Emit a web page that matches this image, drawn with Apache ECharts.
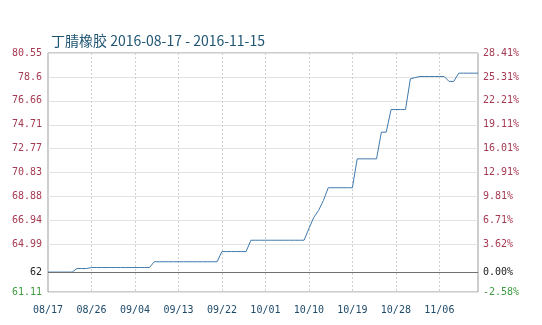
<!DOCTYPE html>
<html>
<head>
<meta charset="utf-8">
<script src="https://cdn.jsdelivr.net/npm/echarts@6/dist/echarts.min.js"></script>
<style>
html,body{margin:0;padding:0;background:#fff;}
#c{width:542px;height:325px;}
</style>
</head>
<body>
<div id="c"></div>
<script>
const titleText = '丁腈橡胶 2016-08-17 - 2016-11-15';
const dates = [
'08/17','08/18','08/19','08/20','08/21','08/22','08/23','08/24','08/25','08/26','08/27','08/28','08/29','08/30','08/31',
'09/01','09/02','09/03','09/04','09/05','09/06','09/07','09/08','09/09','09/10','09/11','09/12','09/13','09/14','09/15',
'09/16','09/17','09/18','09/19','09/20','09/21','09/22','09/23','09/24','09/25','09/26','09/27','09/28','09/29','09/30',
'10/01','10/02','10/03','10/04','10/05','10/06','10/07','10/08','10/09','10/10','10/11','10/12','10/13','10/14','10/15',
'10/16','10/17','10/18','10/19','10/20','10/21','10/22','10/23','10/24','10/25','10/26','10/27','10/28','10/29','10/30',
'10/31','11/01','11/02','11/03','11/04','11/05','11/06','11/07','11/08','11/09','11/10','11/11','11/12','11/13','11/14'
];
const prices = [
62.73,62.73,62.73,62.73,62.73,62.73,63.02,63.02,63.02,63.10,63.10,63.10,63.10,63.10,63.10,
63.10,63.10,63.10,63.10,63.10,63.10,63.10,63.57,63.57,63.57,63.57,63.57,63.57,63.57,63.57,
63.57,63.57,63.57,63.57,63.57,63.57,64.40,64.40,64.40,64.40,64.40,64.40,65.32,65.32,65.32,
65.32,65.32,65.32,65.32,65.32,65.32,65.32,65.32,65.32,66.27,67.17,67.74,68.55,69.59,69.59,
69.59,69.59,69.59,69.59,71.94,71.94,71.94,71.94,71.94,74.11,74.11,75.95,75.95,75.95,75.95,
78.45,78.55,78.64,78.64,78.64,78.64,78.64,78.64,78.24,78.24,78.91,78.91,78.91,78.91,78.91
];
const basePrice = 62.73;
const yMin = 61.11;
const yMax = 80.55;
const tickValues = [61.11, 62.73, 64.99, 66.94, 68.88, 70.83, 72.77, 74.71, 76.66, 78.6, 80.55];
const leftLabels = ['61.11', '62', '64.99', '66.94', '68.88', '70.83', '72.77', '74.71', '76.66', '78.6', '80.55'];
const rightLabels = ['-2.58%', '0.00%', '3.62%', '6.71%', '9.81%', '12.91%', '16.01%', '19.11%', '22.21%', '25.31%', '28.41%'];

const RED = '#a53a52', GREEN = '#3f9b3f', BLACK = '#222';
function richFor(){
  return { r: {color: RED}, g: {color: GREEN}, k: {color: BLACK} };
}
function fmt(labels){
  return function(v){
    let idx = 0, best = Infinity;
    tickValues.forEach((t,i)=>{ const d = Math.abs(t - v); if (d < best){best = d; idx = i;} });
    const key = idx === 0 ? 'g' : (idx === 1 ? 'k' : 'r');
    return '{' + key + '|' + labels[idx] + '}';
  };
}
const font = 'DejaVu Sans Mono';
const chart = echarts.init(document.getElementById('c'), null, {renderer: 'canvas'});
chart.setOption({
  animation: false,
  backgroundColor: '#fff',
  title: {
    text: titleText, left: 46, top: 29,
    textStyle: {fontFamily: 'Noto Sans CJK SC', fontSize: 14, fontWeight: 'normal', color: '#1f5572'}
  },
  grid: {left: 48, right: 64, top: 53, bottom: 33, show: true, borderColor: '#9a9a9a', borderWidth: 1},
  xAxis: {
    type: 'category', data: dates, boundaryGap: false,
    axisLine: {show: false}, axisTick: {show: false},
    axisLabel: {interval: 8, color: '#1e4a6a', fontFamily: font, fontSize: 10, margin: 13},
    splitLine: {show: true, interval: 8, lineStyle: {color: '#cfcfcf', type: [2, 2], width: 1}}
  },
  yAxis: [{
    type: 'value', min: yMin, max: yMax, position: 'left',
    axisLine: {show: false},
    axisTick: {show: false, customValues: tickValues},
    axisLabel: {customValues: tickValues, formatter: fmt(leftLabels), rich: richFor(), fontFamily: font, fontSize: 10, margin: 6},
    splitLine: {show: true, lineStyle: {color: '#e2e2e2', width: 1}}
  }, {
    type: 'value', min: yMin, max: yMax, position: 'right',
    axisLine: {show: false},
    axisTick: {show: false, customValues: tickValues},
    axisLabel: {customValues: tickValues, formatter: fmt(rightLabels), rich: richFor(), fontFamily: font, fontSize: 10, margin: 5},
    splitLine: {show: false}
  }],
  series: [{
    type: 'line', data: prices, yAxisIndex: 0,
    showSymbol: false, symbol: 'none',
    lineStyle: {color: '#4079ad', width: 1},
    markLine: {
      silent: true, symbol: 'none', label: {show: false},
      lineStyle: {color: '#707070', width: 1, type: 'solid'},
      data: [{yAxis: basePrice}]
    },
    z: 3
  }]
});
</script>
</body>
</html>
